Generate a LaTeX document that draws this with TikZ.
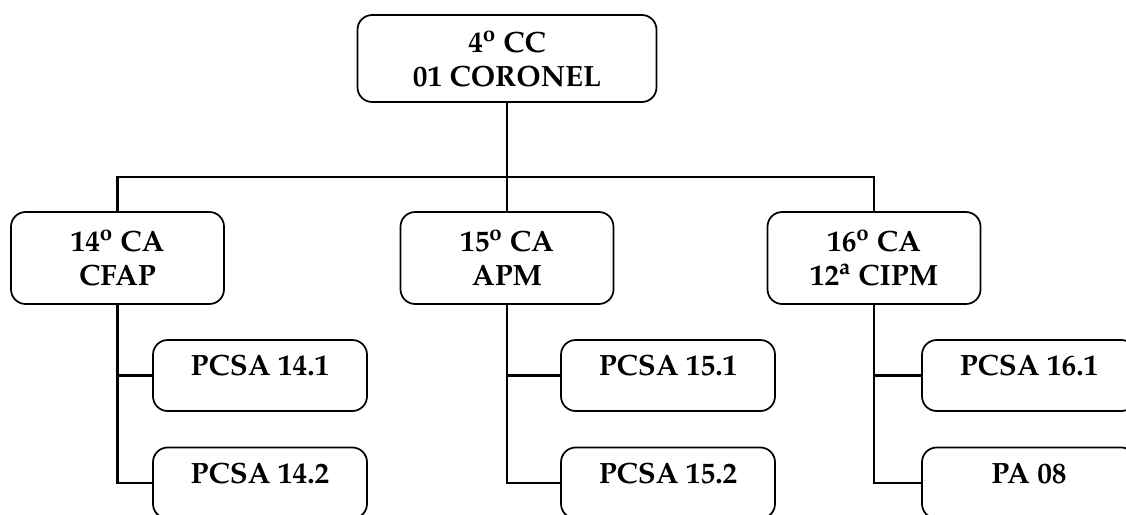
\documentclass[tikz,border=0pt]{standalone}
\usepackage[T1]{fontenc}
\usepackage{mathpazo}
\usepackage{tikz}

\tikzset{
  caixa/.style={draw, line width=1.3pt, rounded corners=11pt, align=center,
    font=\fontsize{22}{25.5}\selectfont\bfseries, inner sep=0pt},
  chefe/.style={caixa, minimum width=299*0.75pt, minimum height=87*0.75pt},
  cia/.style={caixa, minimum width=213*0.75pt, minimum height=92*0.75pt},
  posto/.style={caixa, minimum width=214*0.75pt, minimum height=71*0.75pt,
    text height=12pt, text depth=12pt},
  ligacao/.style={line width=2pt}
}

\begin{document}
\begin{tikzpicture}[x=0.75pt, y=-0.75pt]
  \clip (0,0) rectangle (1126,514);

  % Comando
  \node[chefe] (cc) at (507,58.5) {4\textsuperscript{o} CC\\01 CORONEL};

  % Companhias
  \node[cia] (ca14) at (117.5,258) {14\textsuperscript{o} CA\\CFAP};
  \node[cia] (ca15) at (507,258) {15\textsuperscript{o} CA\\APM};
  \node[cia] (ca16) at (874,258) {16\textsuperscript{o} CA\\12\textsuperscript{a} CIPM};

  % Postos
  \node[posto] (p141) at (260,375.5) {PCSA 14.1};
  \node[posto] (p142) at (260,483) {PCSA 14.2};
  \node[posto] (p151) at (668,375.5) {PCSA 15.1};
  \node[posto] (p152) at (668,483) {PCSA 15.2};
  \node[posto] (p161) at (1029,375.5) {PCSA 16.1};
  \node[posto] (pa08) at (1029,483) {PA 08};

  % Ligacoes
  \coordinate (barra) at (0,177);
  \draw[ligacao] (cc.south) -- (ca15.north);
  \draw[ligacao] (ca14.north) -- (ca14.north |- barra) -- (ca16.north |- barra) -- (ca16.north);
  \draw[ligacao] (ca14.south) |- (p141.west);
  \draw[ligacao] (ca14.south) |- (p142.west);
  \draw[ligacao] (ca15.south) |- (p151.west);
  \draw[ligacao] (ca15.south) |- (p152.west);
  \draw[ligacao] (ca16.south) |- (p161.west);
  \draw[ligacao] (ca16.south) |- (pa08.west);
\end{tikzpicture}
\end{document}
